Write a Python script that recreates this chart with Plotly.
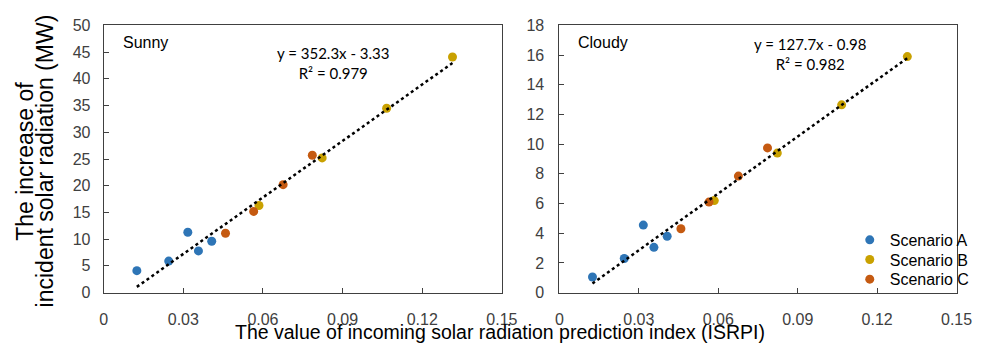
import plotly.graph_objects as go

# ---- data ----
xA = [0.0125, 0.0245, 0.0317, 0.0357, 0.0407]
xB = [0.0585, 0.0823, 0.1066, 0.1314]
xC = [0.0459, 0.0565, 0.0676, 0.0786]

sunnyA = [4.1, 5.9, 11.3, 7.8, 9.6]
sunnyB = [16.3, 25.2, 34.5, 44.1]
sunnyC = [11.1, 15.2, 20.2, 25.7]

cloudyA = [1.05, 2.3, 4.55, 3.05, 3.8]
cloudyB = [6.2, 9.4, 12.65, 15.9]
cloudyC = [4.3, 6.1, 7.85, 9.75]

sunny_fit = (352.3, -3.33)
cloudy_fit = (127.7, -0.98)
sunny_r2 = "0.979"
cloudy_r2 = "0.982"

xticks = [0, 0.03, 0.06, 0.09, 0.12, 0.15]
xticktext = ["0", "0.03", "0.06", "0.09", "0.12", "0.15"]
sunny_yticks = [0, 5, 10, 15, 20, 25, 30, 35, 40, 45, 50]
cloudy_yticks = [0, 2, 4, 6, 8, 10, 12, 14, 16, 18]

colA = "#2E75B6"
colB = "#C9A100"
colC = "#C55A11"

FONT = "Liberation Sans, Arial, sans-serif"
EQFONT = "Lato, Calibri, sans-serif"
AXCOL = "#404040"

fig = go.Figure()

all_x = xA + xB + xC
xmin, xmax = min(all_x), max(all_x)

def add_panel(xa, ya, yA, yB, yC, fit, showleg):
    for xs, ys, col, name, leg in [(xA, yA, colA, "Scenario A", "legend"),
                                   (xB, yB, colB, "Scenario B", "legend2"),
                                   (xC, yC, colC, "Scenario C", "legend3")]:
        fig.add_trace(go.Scatter(x=xs, y=ys, mode="markers", name=name,
                                 marker=dict(color=col, size=9),
                                 xaxis=xa, yaxis=ya, showlegend=showleg, legend=leg))
    m, b = fit
    fig.add_trace(go.Scatter(x=[xmin, xmax], y=[m * xmin + b, m * xmax + b],
                             mode="lines", line=dict(color="black", width=2.5, dash="dot"),
                             xaxis=xa, yaxis=ya, showlegend=False, hoverinfo="skip"))

add_panel("x", "y", sunnyA, sunnyB, sunnyC, sunny_fit, False)
add_panel("x2", "y2", cloudyA, cloudyB, cloudyC, cloudy_fit, True)

ydom = [(353 - 299) / 353, (353 - 18.3) / 353]
axis_common = dict(showline=True, linecolor=AXCOL, linewidth=1, mirror=True,
                   ticks="inside", ticklen=5, tickcolor=AXCOL, showgrid=False,
                   zeroline=False, tickfont=dict(family=FONT, size=16, color=AXCOL))

def legend_at(ypix):
    return dict(x=863 / 1001, y=(353 - ypix) / 353, xanchor="left", yanchor="middle",
                font=dict(family=FONT, size=16, color="#000000"),
                bgcolor="rgba(0,0,0,0)", itemwidth=30, borderwidth=0)

fig.update_layout(
    width=1001, height=353,
    margin=dict(l=0, r=0, t=0, b=0),
    plot_bgcolor="white", paper_bgcolor="white",
    xaxis=dict(domain=[101.7 / 1001, 508 / 1001], range=[0, 0.15],
               tickvals=xticks, ticktext=xticktext, anchor="y",
               ticklabelstandoff=12, **axis_common),
    yaxis=dict(domain=ydom, range=[0, 50], tickvals=sunny_yticks, anchor="x",
               ticklabelstandoff=9, **axis_common),
    xaxis2=dict(domain=[566.7 / 1001, 972 / 1001], range=[0, 0.15],
                tickvals=xticks, ticktext=xticktext, anchor="y2",
                ticklabelstandoff=12, **axis_common),
    yaxis2=dict(domain=ydom, range=[0, 18], tickvals=cloudy_yticks, anchor="x2",
                ticklabelstandoff=11, **axis_common),
    legend=legend_at(243.7),
    legend2=legend_at(264.3),
    legend3=legend_at(285),
    showlegend=True,
)

ann = []
ann.append(dict(text="Sunny", x=119 / 1001, y=(353 - 36) / 353, xref="paper", yref="paper",
                xanchor="left", yanchor="middle", showarrow=False,
                font=dict(family=FONT, size=16, color="#000")))
ann.append(dict(text="Cloudy", x=584 / 1001, y=(353 - 36) / 353, xref="paper", yref="paper",
                xanchor="left", yanchor="middle", showarrow=False,
                font=dict(family=FONT, size=16, color="#000")))
ann.append(dict(text=f"y = {sunny_fit[0]}x - {abs(sunny_fit[1])}<br>R² = {sunny_r2}",
                x=336 / 1001, y=(353 - 58) / 353, xref="paper", yref="paper",
                xanchor="center", yanchor="middle", showarrow=False,
                font=dict(family=EQFONT, size=15, color="#000")))
ann.append(dict(text=f"y = {cloudy_fit[0]}x - {abs(cloudy_fit[1])}<br>R² = {cloudy_r2}",
                x=822 / 1001, y=(353 - 48) / 353, xref="paper", yref="paper",
                xanchor="center", yanchor="middle", showarrow=False,
                font=dict(family=EQFONT, size=15, color="#000")))
ann.append(dict(text="The value of incoming solar radiation prediction index (ISRPI)",
                x=506 / 1001, y=0, xref="paper", yref="paper",
                xanchor="center", yanchor="bottom", showarrow=False, borderpad=0,
                font=dict(family=FONT, size=19.5, color="#000")))
ann.append(dict(text="The increase of",
                x=22 / 1001, y=(353 - 161) / 353, xref="paper", yref="paper",
                xanchor="center", yanchor="middle", showarrow=False, textangle=-90,
                font=dict(family=FONT, size=23, color="#000")))
ann.append(dict(text="incident solar radiation (MW)",
                x=42 / 1001, y=(353 - 161) / 353, xref="paper", yref="paper",
                xanchor="center", yanchor="middle", showarrow=False, textangle=-90,
                font=dict(family=FONT, size=23, color="#000")))
fig.update_layout(annotations=ann)

fig.write_html("out.html")
